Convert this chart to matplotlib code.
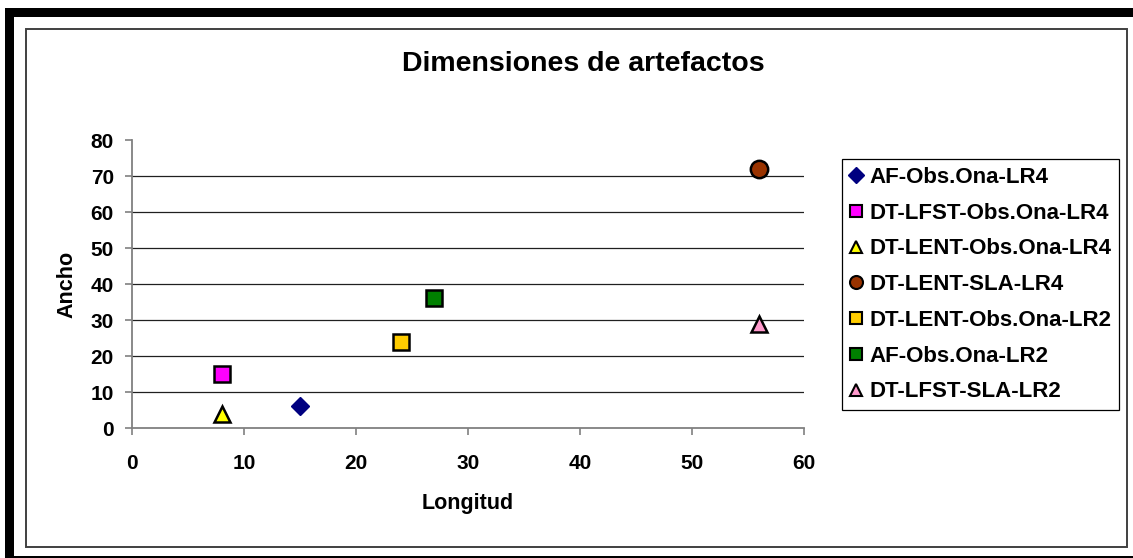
import matplotlib
matplotlib.use("Agg")
import matplotlib.pyplot as plt
from matplotlib.patches import Rectangle
from matplotlib.lines import Line2D

plt.rcParams['font.family'] = ['Liberation Sans', 'DejaVu Sans']
plt.rcParams['font.weight'] = 'bold'

# ---- data ----
series_names = ["AF-Obs.Ona-LR4", "DT-LFST-Obs.Ona-LR4", "DT-LENT-Obs.Ona-LR4",
                "DT-LENT-SLA-LR4", "DT-LENT-Obs.Ona-LR2", "AF-Obs.Ona-LR2",
                "DT-LFST-SLA-LR2"]
longitud = [15, 8, 8, 56, 24, 27, 56]
ancho = [6, 15, 4, 72, 24, 36, 29]
colors = ["#000080", "#FF00FF", "#FFFF00", "#993300", "#FFCC00", "#008000", "#FF99CC"]
markers = ["D", "s", "^", "o", "s", "s", "^"]
edgecolors = ["#000080", "black", "black", "black", "black", "black", "black"]
msizes = [9.5, 11, 12, 12.5, 11, 11, 12]
x_ticks = [0, 10, 20, 30, 40, 50, 60]
y_ticks = [0, 10, 20, 30, 40, 50, 60, 70, 80]
title = "Dimensiones de artefactos"
xlabel = "Longitud"
ylabel = "Ancho"

W, H = 1133, 558
fig = plt.figure(figsize=(W / 100, H / 100), dpi=100)
fig.patch.set_facecolor("white")

def px(x0, y0, w, h):
    return (x0 / W, 1 - (y0 + h) / H, w / W, h / H)

def band(x0, y0, w, h, **kw):
    l, b, ww, hh = px(x0, y0, w, h)
    fig.patches.append(Rectangle((l, b), ww, hh, transform=fig.transFigure, zorder=0, **kw))

# outer frame
band(5, 8, 1128, 9, facecolor="black", edgecolor="none")
band(5, 8, 9, 550, facecolor="black", edgecolor="none")
band(5, 556, 1128, 1.5, facecolor="black", edgecolor="none")
# inner chart-area frame
band(26, 29, 1101, 518, facecolor="none", edgecolor="#404040", linewidth=1.4)

ax = fig.add_axes(px(132, 140, 672, 288))
ax.set_facecolor("none")
for yv in y_ticks[1:-1]:
    ax.axhline(yv, color="#202020", linewidth=0.9, zorder=1)

for i, name in enumerate(series_names):
    ax.plot([longitud[i]], [ancho[i]], linestyle="none", marker=markers[i],
            markersize=msizes[i], markerfacecolor=colors[i], markeredgecolor=edgecolors[i],
            markeredgewidth=1.0 if markers[i] == "D" else 1.8,
            label=name, zorder=3, clip_on=False)

ax.set_xlim(0, 60)
ax.set_ylim(0, 80)
ax.set_xticks(x_ticks)
ax.set_yticks(y_ticks)
ax.set_xticklabels([str(v) for v in x_ticks], fontsize=15, fontweight="bold")
ax.set_yticklabels([str(v) for v in y_ticks], fontsize=15, fontweight="bold")
for s in ["top", "right"]:
    ax.spines[s].set_visible(False)
for s in ["left", "bottom"]:
    ax.spines[s].set_color("#808080")
    ax.spines[s].set_linewidth(1.3)
ax.tick_params(axis="x", direction="out", length=5, width=1.2, color="#808080", pad=14)
ax.tick_params(axis="y", direction="out", length=5, width=1.2, color="#808080", pad=8)

fig.text(583 / W, 1 - 64 / H, title, ha="center", va="center", fontsize=20.5, fontweight="bold")
fig.text(468 / W, 1 - 503 / H, xlabel, ha="center", va="center", fontsize=15.5, fontweight="bold")
fig.text(67 / W, 1 - 284 / H, ylabel, ha="center", va="center", fontsize=15.5, fontweight="bold",
         rotation=90)

handles = [Line2D([], [], linestyle="none", marker=markers[i],
                  markersize=msizes[i] * (0.85 if markers[i] == "D" else 0.75),
                  markerfacecolor=colors[i], markeredgecolor=edgecolors[i],
                  markeredgewidth=1.0 if markers[i] == "D" else 1.5)
           for i in range(len(series_names))]
leg = fig.legend(handles, series_names, loc="upper left",
                 bbox_to_anchor=(842 / W, 1 - 159 / H), bbox_transform=fig.transFigure,
                 prop={"family": "Liberation Sans", "weight": "bold", "size": 16},
                 frameon=True, fancybox=False, edgecolor="black", framealpha=1,
                 handlelength=0.6, handletextpad=0.27, labelspacing=0.665,
                 borderpad=0.35, borderaxespad=0)
leg.get_frame().set_linewidth(0.9)

fig.savefig("out.png", dpi=100)
